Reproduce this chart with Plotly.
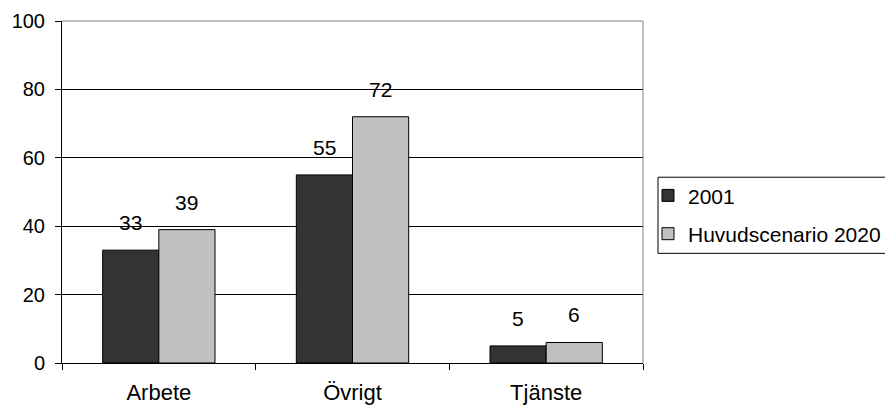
import plotly.graph_objects as go

# Trip purposes and shares for the two scenarios
categories = ["Arbete", "Övrigt", "Tjänste"]
series_names = ["2001", "Huvudscenario 2020"]
values_2001 = [33, 55, 5]
values_2020 = [39, 72, 6]
y_ticks = [0, 20, 40, 60, 80, 100]

FONT = "Liberation Sans, Arial, sans-serif"
W, H = 885, 405
M_L, M_R, M_T, M_B = 62, 242, 21, 42
BARGAP = 0.42
colors = ["#333333", "#c0c0c0"]

fig = go.Figure()
for i, (name, vals) in enumerate(zip(series_names, [values_2001, values_2020])):
    fig.add_trace(go.Bar(
        x=categories, y=vals, name=name,
        marker=dict(color=colors[i], line=dict(color="#000000", width=1)),
        legendgroup=name,
    ))

# value labels above each bar, shifted onto the bar of the matching series
plot_w = W - M_L - M_R
bar_px = plot_w / len(categories) * (1 - BARGAP) / 2
for i, vals in enumerate([values_2001, values_2020]):
    shift = (i - 0.5) * bar_px
    for cat, v in zip(categories, vals):
        fig.add_annotation(
            x=cat, y=v, text=str(v), showarrow=False,
            xanchor="center", yanchor="bottom", xshift=shift, yshift=14,
            font=dict(family=FONT, size=21, color="#000000"),
        )

# grey frame on the top and right edges of the plot area
fig.add_shape(type="line", xref="paper", yref="paper", x0=0, x1=1, y0=1, y1=1,
              line=dict(color="#808080", width=1), layer="above")
fig.add_shape(type="line", xref="paper", yref="paper", x0=1, x1=1, y0=0, y1=1,
              line=dict(color="#808080", width=1), layer="above")

# legend frame, running off the right edge of the figure
fig.add_shape(type="rect", xref="paper", yref="paper",
              x0=1.0258, x1=1.6, y0=0.3206, y1=0.5432,
              line=dict(color="#000000", width=1), fillcolor="white",
              layer="above")

fig.update_layout(
    width=W, height=H,
    margin=dict(l=M_L, r=M_R, t=M_T, b=M_B, autoexpand=False),
    paper_bgcolor="white", plot_bgcolor="white",
    barmode="group", bargap=BARGAP, bargroupgap=0,
    font=dict(family=FONT, color="#000000"),
    showlegend=True,
    legend=dict(
        x=1.0086, xanchor="left", y=0.549, yanchor="top",
        borderwidth=0, bgcolor="rgba(0,0,0,0)",
        font=dict(family=FONT, size=21, color="#000000"),
        tracegroupgap=8, traceorder="grouped",
    ),
    xaxis=dict(
        type="category", tickson="boundaries", ticks="outside", ticklen=6,
        tickcolor="#000000", showline=True, linecolor="#000000", linewidth=1,
        showgrid=False, tickfont=dict(family=FONT, size=22, color="#000000"),
        ticklabelstandoff=10,
    ),
    yaxis=dict(
        range=[0, 100], tickvals=y_ticks, ticks="outside", ticklen=6,
        tickcolor="#000000", showline=True, linecolor="#000000", linewidth=1,
        showgrid=True, gridcolor="#000000", gridwidth=1, zeroline=False,
        tickfont=dict(family=FONT, size=20, color="#000000"),
        ticklabelstandoff=6,
    ),
)

fig.write_html("out.html")
